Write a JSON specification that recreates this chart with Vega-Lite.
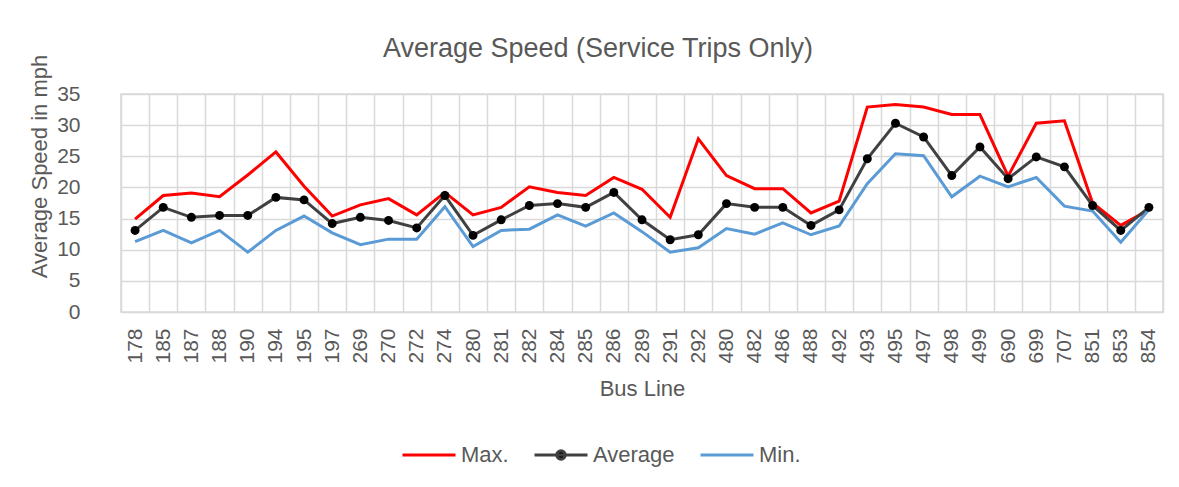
{
  "$schema": "https://vega.github.io/schema/vega-lite/v6.json",
  "width": 1042,
  "height": 218,
  "autosize": {"type": "none"},
  "padding": {"left": 121, "top": 94, "right": 16, "bottom": 175},
  "background": "#ffffff",
  "title": {
    "text": "Average Speed (Service Trips Only)",
    "anchor": "middle",
    "frame": "group",
    "dx": -44,
    "offset": -9,
    "font": "Liberation Sans",
    "fontSize": 27,
    "fontWeight": "normal",
    "color": "#595959"
  },
  "data": {
    "values": [
      {"line": "178", "max": 14.9, "avg": 13.1, "min": 11.3},
      {"line": "185", "max": 18.7, "avg": 16.8, "min": 13.1},
      {"line": "187", "max": 19.1, "avg": 15.2, "min": 11.1},
      {"line": "188", "max": 18.5, "avg": 15.5, "min": 13.1},
      {"line": "190", "max": 22.0, "avg": 15.5, "min": 9.6},
      {"line": "194", "max": 25.7, "avg": 18.4, "min": 13.1},
      {"line": "195", "max": 20.2, "avg": 18.0, "min": 15.4},
      {"line": "197", "max": 15.4, "avg": 14.2, "min": 12.7},
      {"line": "269", "max": 17.2, "avg": 15.2, "min": 10.8},
      {"line": "270", "max": 18.2, "avg": 14.7, "min": 11.7},
      {"line": "272", "max": 15.6, "avg": 13.5, "min": 11.7},
      {"line": "274", "max": 19.2, "avg": 18.7, "min": 16.9},
      {"line": "280", "max": 15.6, "avg": 12.3, "min": 10.5},
      {"line": "281", "max": 16.8, "avg": 14.8, "min": 13.1},
      {"line": "282", "max": 20.1, "avg": 17.1, "min": 13.3},
      {"line": "284", "max": 19.2, "avg": 17.4, "min": 15.6},
      {"line": "285", "max": 18.7, "avg": 16.8, "min": 13.8},
      {"line": "286", "max": 21.6, "avg": 19.2, "min": 15.9},
      {"line": "289", "max": 19.7, "avg": 14.8, "min": 12.9},
      {"line": "291", "max": 15.2, "avg": 11.6, "min": 9.6},
      {"line": "292", "max": 27.8, "avg": 12.4, "min": 10.3},
      {"line": "480", "max": 21.9, "avg": 17.4, "min": 13.4},
      {"line": "482", "max": 19.8, "avg": 16.8, "min": 12.5},
      {"line": "486", "max": 19.8, "avg": 16.8, "min": 14.3},
      {"line": "488", "max": 15.9, "avg": 13.9, "min": 12.4},
      {"line": "492", "max": 17.8, "avg": 16.4, "min": 13.8},
      {"line": "493", "max": 32.9, "avg": 24.6, "min": 20.6},
      {"line": "495", "max": 33.3, "avg": 30.3, "min": 25.4},
      {"line": "497", "max": 32.9, "avg": 28.1, "min": 25.1},
      {"line": "498", "max": 31.7, "avg": 21.9, "min": 18.5},
      {"line": "499", "max": 31.7, "avg": 26.5, "min": 21.8},
      {"line": "690", "max": 21.8, "avg": 21.4, "min": 20.1},
      {"line": "699", "max": 30.3, "avg": 24.9, "min": 21.6},
      {"line": "707", "max": 30.7, "avg": 23.3, "min": 17.0},
      {"line": "851", "max": 17.5, "avg": 17.1, "min": 16.2},
      {"line": "853", "max": 13.9, "avg": 13.1, "min": 11.2},
      {"line": "854", "max": 16.4, "avg": 16.8, "min": 16.4}
    ]
  },
  "transform": [
    {"fold": ["max", "avg", "min"], "as": ["key", "speed"]},
    {"lookup": "key", "from": {"data": {"values": [
      {"key": "max", "series": "Max."},
      {"key": "avg", "series": "Average"},
      {"key": "min", "series": "Min."}
    ]}, "key": "key", "fields": ["series"]}}
  ],
  "encoding": {
    "x": {
      "field": "line",
      "type": "ordinal",
      "sort": null,
      "bandPosition": 0.5,
      "scale": {"type": "band", "paddingInner": 0, "paddingOuter": 0},
      "axis": {
        "title": "Bus Line",
        "titleFont": "Liberation Sans",
        "titleFontSize": 22,
        "titleFontWeight": "normal",
        "titleColor": "#595959",
        "titleX": 521,
        "titleY": 83,
        "titleAlign": "center",
        "titleBaseline": "alphabetic",
        "labelAngle": 270,
        "labelAlign": "right",
        "labelBaseline": "middle",
        "labelFont": "Liberation Sans",
        "labelFontSize": 21,
        "labelColor": "#595959",
        "labelPadding": 16,
        "labelOverlap": false,
        "tickSize": 0,
        "tickBand": "extent",
        "domain": false,
        "grid": true,
        "gridColor": "#d9d9d9",
        "gridWidth": 1.5,
        "gridOpacity": 1
      }
    },
    "y": {
      "field": "speed",
      "type": "quantitative",
      "scale": {"domain": [0, 35], "nice": false},
      "axis": {
        "title": "Average Speed in mph",
        "titleFont": "Liberation Sans",
        "titleFontSize": 22,
        "titleFontWeight": "normal",
        "titleColor": "#595959",
        "titleX": -75,
        "titleY": 72,
        "titleAngle": 270,
        "titleAlign": "center",
        "titleBaseline": "alphabetic",
        "values": [0, 5, 10, 15, 20, 25, 30, 35],
        "labelFont": "Liberation Sans",
        "labelFontSize": 21,
        "labelColor": "#595959",
        "labelPadding": 41,
        "tickSize": 0,
        "domain": false,
        "grid": true,
        "gridColor": "#d9d9d9",
        "gridWidth": 1.5,
        "gridOpacity": 1
      }
    }
  },
  "layer": [
    {
      "mark": {"type": "line", "strokeWidth": 3},
      "encoding": {
        "color": {
          "field": "series",
          "type": "nominal",
          "scale": {"domain": ["Max.", "Average", "Min."], "range": ["#ff0000", "#404040", "#5b9bd5"]},
          "legend": {
            "title": null,
            "orient": "none",
            "direction": "horizontal",
            "legendX": 280,
            "legendY": 333,
            "padding": 0,
            "symbolSize": 2809,
            "symbolStrokeWidth": 3,
            "labelFont": "Liberation Sans",
            "labelFontSize": 22,
            "labelColor": "#595959",
            "labelOffset": 4,
            "labelLimit": 300,
            "columnPadding": 19,
            "encode": {
              "symbols": {
                "update": {
                  "shape": {"signal": "datum.value === 'Average' ? 'M-1,0H1M0.16,0A0.16,0.16,0,1,1,-0.16,0A0.16,0.16,0,1,1,0.16,0Z' : 'M-1,0H1'"},
                  "fill": {"signal": "datum.value === 'Average' ? '#000000' : 'transparent'"},
                  "strokeWidth": {"value": 3}
                }
              }
            }
          }
        }
      }
    },
    {
      "transform": [{"filter": "datum.series === 'Average'"}],
      "mark": {"type": "point", "filled": true, "size": 80, "color": "#000000", "opacity": 1},
      "encoding": {}
    }
  ],
  "config": {
    "view": {"stroke": "#d9d9d9", "strokeWidth": 1.5}
  }
}
